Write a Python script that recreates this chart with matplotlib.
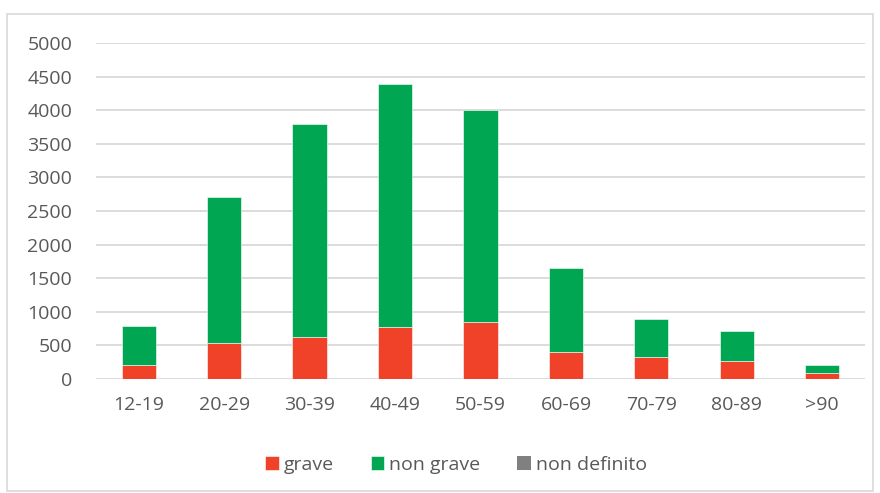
import numpy as np
import matplotlib.pyplot as plt
from matplotlib.patches import Rectangle

plt.rcParams['font.family'] = ['Open Sans', 'DejaVu Sans']

# dati
fasce = ["12-19", "20-29", "30-39", "40-49", "50-59", "60-69", "70-79", "80-89", ">90"]
grave = [210, 535, 630, 770, 855, 410, 325, 275, 90]
non_grave = [580, 2175, 3170, 3620, 3145, 1240, 565, 440, 120]
non_definito = [0, 0, 0, 0, 0, 0, 0, 0, 0]

c_grave = "#F04129"
c_non_grave = "#00A651"
c_non_def = "#808080"
testo = "#595959"

fig = plt.figure(figsize=(8.8, 4.93), dpi=100)
ax = fig.add_axes([0.109, 0.231, 0.874, 0.682])

# bordo esterno del grafico
fig.patches.append(Rectangle((0.008, 0.004), 0.984, 0.968, transform=fig.transFigure,
                             fill=False, edgecolor="#d9d9d9", linewidth=1.2))

x = np.arange(len(fasce))
w = 0.4
g = np.array(grave)
ng = np.array(non_grave)
nd = np.array(non_definito)
ax.bar(x, g, w, color=c_grave, label="grave", edgecolor="white", linewidth=0.4, zorder=3)
ax.bar(x, ng, w, bottom=g, color=c_non_grave, label="non grave", edgecolor="white", linewidth=0.4, zorder=3)
ax.bar(x, nd, w, bottom=g + ng, color=c_non_def, label="non definito", zorder=3)

ax.set_xlim(-0.5, len(fasce) - 0.5)
ax.set_ylim(0, 5000)
ax.set_yticks(np.arange(0, 5001, 500))
ax.set_xticks(x)
ax.set_xticklabels(fasce)
ax.grid(axis="y", color="#d9d9d9", linewidth=1.3, zorder=0)
ax.tick_params(length=0, labelsize=14, colors=testo)
ax.tick_params(axis="y", pad=17)
ax.tick_params(axis="x", pad=12)
for s in ax.spines.values():
    s.set_visible(False)

leg = ax.legend(loc="center", bbox_to_anchor=(0.468, -0.255), ncol=3, frameon=False,
                fontsize=14, handlelength=0.7, handleheight=0.7, handletextpad=0.25,
                columnspacing=1.9)
for t in leg.get_texts():
    t.set_color(testo)

fig.savefig("out.png", dpi=100)
